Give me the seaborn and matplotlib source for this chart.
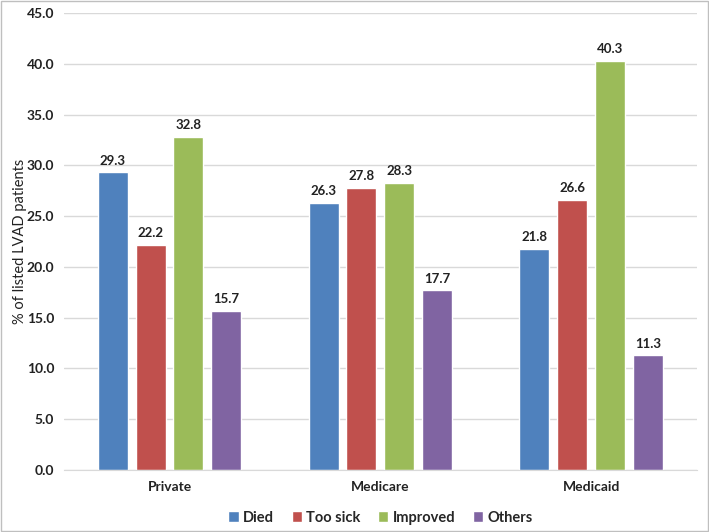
import pandas as pd
import seaborn as sns
import matplotlib.pyplot as plt
from matplotlib.patches import Rectangle

# Outcomes by insurance type (% of listed LVAD patients)
insurance = ["Private", "Medicare", "Medicaid"]
outcomes = ["Died", "Too sick", "Improved", "Others"]
died = [29.3, 26.3, 21.8]
too_sick = [22.2, 27.8, 26.6]
improved = [32.8, 28.3, 40.3]
others = [15.7, 17.7, 11.3]

colors = ["#4F81BD", "#C0504D", "#9BBB59", "#8064A2"]

df = pd.DataFrame({"Insurance": insurance, "Died": died, "Too sick": too_sick,
                   "Improved": improved, "Others": others})
long = df.melt(id_vars="Insurance", var_name="Outcome", value_name="Percent")

sns.set_style("white")
plt.rcParams["font.family"] = ["Lato", "DejaVu Sans"]

fig = plt.figure(figsize=(7.09, 5.32), dpi=100)
ax = fig.add_axes([0.0903, 0.1165, 0.8927, 0.859])

sns.barplot(data=long, x="Insurance", y="Percent", hue="Outcome",
            order=insurance, hue_order=outcomes, palette=colors,
            width=0.72, gap=0.21, saturation=1, errorbar=None, ax=ax)

for cont in ax.containers:
    ax.bar_label(cont, fmt="%.1f", padding=4, fontsize=9.5, fontweight="bold",
                 color="#222222")

ax.set_ylim(0, 45)
ax.set_xlim(-0.5, 2.5)
ax.set_yticks(range(0, 46, 5))
ax.set_yticklabels([f"{v:.1f}" for v in range(0, 46, 5)])
ax.yaxis.grid(True, color="#D9D9D9", linewidth=1)
ax.set_axisbelow(True)
for s in ["top", "right", "left"]:
    ax.spines[s].set_visible(False)
ax.spines["bottom"].set_color("#D9D9D9")
ax.tick_params(axis="both", length=0, labelsize=10, colors="#222222", pad=8)
ax.tick_params(axis="y", pad=7)
for lab in ax.get_xticklabels() + ax.get_yticklabels():
    lab.set_fontweight("bold")
ax.set_xlabel("")
ax.set_ylabel("% of listed LVAD patients", fontsize=10.5, color="#222222")
ax.yaxis.set_label_coords(-0.058, 0.5)

ax.legend(loc="upper center", bbox_to_anchor=(0.5, -0.06), ncol=4, frameon=False,
          prop={"size": 10.5, "weight": "bold"}, handlelength=0.7, handleheight=0.7,
          handletextpad=0.3, columnspacing=1.2)

fig.patches.append(Rectangle((0.002, 0.002), 0.996, 0.996, transform=fig.transFigure,
                             fill=False, edgecolor="#BFBFBF", linewidth=1))

plt.savefig("out.png", dpi=100)
